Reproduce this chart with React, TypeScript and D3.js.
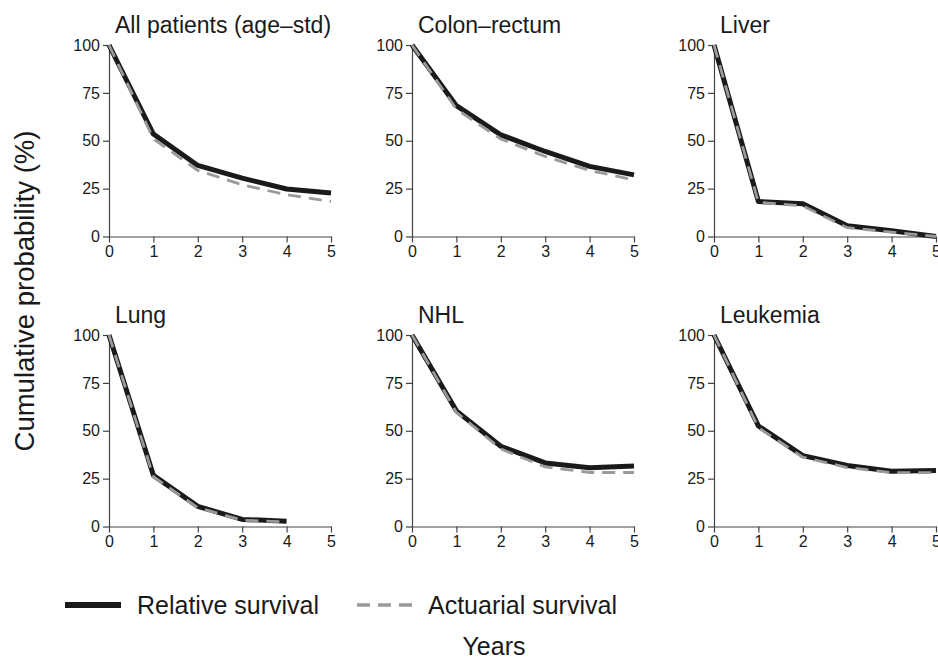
import React, { useRef, useEffect } from "react";
import * as d3 from "d3";

const years = [0, 1, 2, 3, 4, 5];
const yTicks = [0, 25, 50, 75, 100];

const panelTitles = ["All patients (age\u2013std)", "Colon\u2013rectum", "Liver", "Lung", "NHL", "Leukemia"];

// Relative survival (%) per year
const relAll = [100, 53.5, 37.1, 30.5, 24.8, 22.7];
const relColon = [100, 68.3, 53.1, 44.4, 36.6, 32.2];
const relLiver = [100, 18.3, 17.1, 5.6, 3.0, 0];
const relLung = [100, 26.7, 10.5, 3.7, 2.8];
const relNhl = [100, 60.4, 41.9, 33.2, 30.7, 31.6];
const relLeuk = [100, 52.5, 37.0, 31.9, 28.9, 29.2];

// Actuarial survival (%) per year
const actAll = [100, 51.0, 34.5, 27.0, 21.8, 18.3];
const actColon = [100, 66.5, 50.9, 41.8, 34.5, 29.6];
const actLiver = [100, 17.8, 16.0, 4.6, 2.3, 0];
const actLung = [100, 26.0, 9.8, 3.3, 2.4];
const actNhl = [100, 59.6, 40.5, 31.1, 28.2, 28.2];
const actLeuk = [100, 51.6, 36.2, 30.8, 28.1, 28.1];

const relative = [relAll, relColon, relLiver, relLung, relNhl, relLeuk];
const actuarial = [actAll, actColon, actLiver, actLung, actNhl, actLeuk];

const W = 938;
const H = 660;
const font = "'Liberation Sans', Arial, Helvetica, sans-serif";
const colLeft = [109, 412, 714];
const rowTop = [45, 335];
const plotW = 222;
const plotH = 191.5;

function Panel({ idx }: { idx: number }) {
  const xRef = useRef<SVGGElement>(null);
  const yRef = useRef<SVGGElement>(null);
  const left = colLeft[idx % 3];
  const top = rowTop[Math.floor(idx / 3)];

  const x = d3.scaleLinear().domain([0, 5]).range([left, left + plotW]);
  const y = d3.scaleLinear().domain([0, 100]).range([top + plotH, top]);

  const line = d3
    .line<number>()
    .x((d, i) => x(years[i]))
    .y((d) => y(d));

  useEffect(() => {
    const style = (g: any) => {
      g.selectAll("path.domain").attr("stroke", "#444").attr("stroke-width", 1.2);
      g.selectAll(".tick line").attr("stroke", "#444").attr("stroke-width", 1.2);
      g.selectAll(".tick text")
        .attr("fill", "#1a1a1a")
        .attr("font-size", 16)
        .attr("font-family", font);
    };
    d3.select(xRef.current)
      .call(d3.axisBottom(x).tickValues(years).tickFormat(d3.format("d")).tickSize(6).tickSizeOuter(0).tickPadding(3) as any)
      .call(style);
    d3.select(yRef.current)
      .call(d3.axisLeft(y).tickValues(yTicks).tickSize(6).tickSizeOuter(0).tickPadding(3) as any)
      .call(style);
  }, [idx]);

  return (
    <g>
      <text x={left + 6} y={top - 12} fontSize={23} fontFamily={font} fill="#1a1a1a">
        {panelTitles[idx]}
      </text>
      <g ref={xRef} transform={`translate(0,${top + plotH})`} />
      <g ref={yRef} transform={`translate(${left},0)`} />
      <path d={line(relative[idx]) || ""} fill="none" stroke="#1a1a1a" strokeWidth={5} strokeLinejoin="round" />
      <path
        d={line(actuarial[idx]) || ""}
        fill="none"
        stroke="#9a9a9a"
        strokeWidth={2.8}
        strokeDasharray="13,8"
      />
    </g>
  );
}

export default function App() {
  return (
    <svg
      width={W}
      height={H}
      style={{ position: "absolute", left: 0, top: 0, background: "#fff", overflow: "hidden" }}
    >
      <rect width={W} height={H} fill="#fff" />
      {panelTitles.map((t, i) => (
        <Panel key={t} idx={i} />
      ))}
      <text
        transform="translate(34,291) rotate(-90)"
        textAnchor="middle"
        fontSize={27.5}
        fontFamily={font}
        fill="#1a1a1a"
      >
        Cumulative probability (%)
      </text>
      <line x1={65} x2={121} y1={605} y2={605} stroke="#1a1a1a" strokeWidth={6} />
      <text x={137} y={614} fontSize={25} fontFamily={font} fill="#1a1a1a">
        Relative survival
      </text>
      <line x1={357} x2={412} y1={605} y2={605} stroke="#9a9a9a" strokeWidth={3.5} strokeDasharray="13,8" />
      <text x={428} y={614} fontSize={25} fontFamily={font} fill="#1a1a1a">
        Actuarial survival
      </text>
      <text x={494} y={655} textAnchor="middle" fontSize={25} fontFamily={font} fill="#1a1a1a">
        Years
      </text>
    </svg>
  );
}
